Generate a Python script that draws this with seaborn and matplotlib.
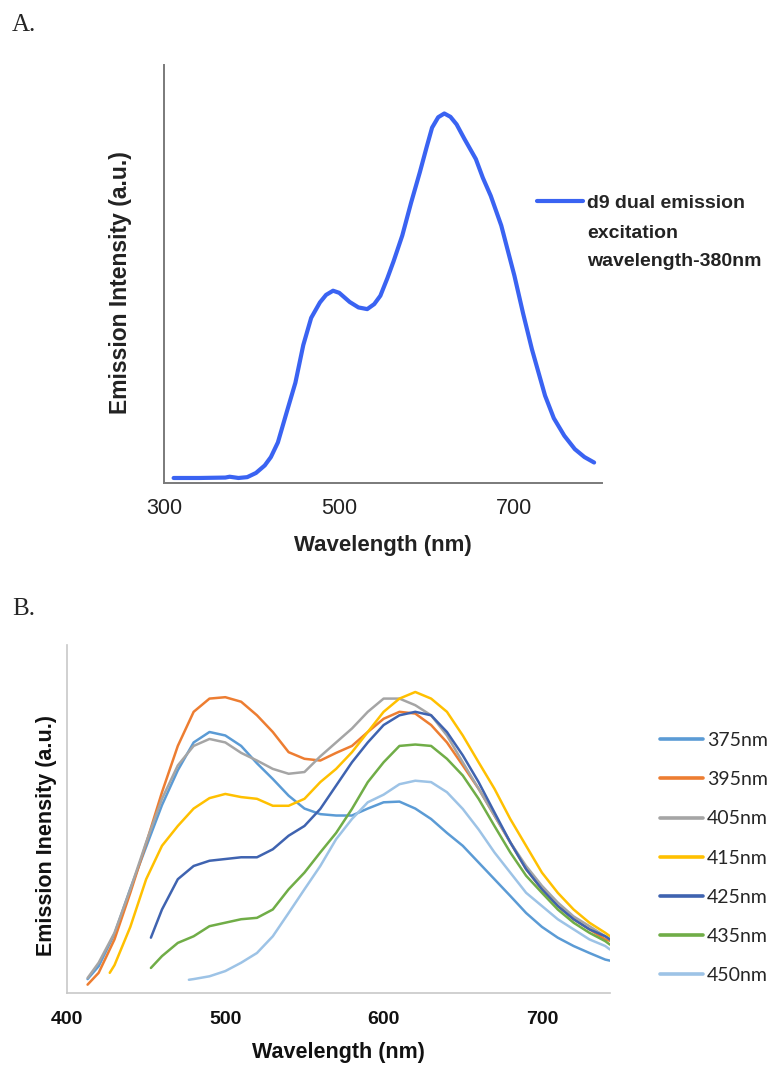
import numpy as np
import pandas as pd
import matplotlib
matplotlib.use("Agg")
import matplotlib.pyplot as plt
import seaborn as sns

# ---------------- Panel A data ----------------
wl_a = [311, 340, 370, 375, 385, 395, 405, 415, 422, 430, 440, 450, 459, 468, 478, 485,
        493, 500, 512, 522, 532, 540, 547, 555, 562, 572, 582, 592, 600, 606, 613, 620,
        627, 634, 643, 656, 664, 673, 685, 700, 710, 720, 735, 745, 757, 769, 780, 791]
int_a = [1.2, 1.2, 1.3, 1.5, 1.2, 1.4, 2.4, 4.2, 6.2, 9.7, 16.9, 24, 33, 39.5, 43.2, 45,
         46, 45.5, 43.3, 42, 41.6, 42.8, 44.8, 49, 53, 59.2, 67, 74.3, 80.5, 85, 87.5, 88.4,
         87.6, 85.8, 82.3, 77.5, 73, 68.7, 61.6, 49.6, 40.5, 32, 20.9, 15.5, 11.3, 8.1, 6.2, 4.9]
a_ticks = [300, 500, 700]
legend_a_lines = ["d9 dual emission", "excitation", "wavelength-380nm"]

# ---------------- Panel B data ----------------
grid = list(range(420, 741, 10))
wl_375 = [413] + grid + [743]
val_375 = [4, 7.7, 17, 30, 42, 54, 64, 72, 75, 74, 71, 66, 61.5, 56.7, 53, 51.4, 51, 51, 53,
           54.8, 55, 53, 50, 46, 42.3, 37.5, 32.7, 27.9, 23, 19, 15.9, 13.5, 11.5, 9.6, 9.3]
wl_395 = [413] + grid + [743]
val_395 = [2.4, 5.8, 15.4, 28.8, 43, 57.7, 71, 80.8, 84.6, 85, 83.7, 79.8, 75, 69.2, 67.3,
           66.8, 69, 71, 75, 78.8, 80.8, 80.3, 77, 72, 65.4, 58.7, 51, 43.3, 35.6, 29.8, 25,
           21.2, 18.3, 15.4, 15]
wl_405 = [413] + grid + [743]
val_405 = [4.3, 8.7, 17.3, 29.8, 43.3, 55.8, 65.4, 71, 73, 72, 69, 66.8, 64.4, 63, 63.5, 68,
           72, 76, 80.8, 84.6, 84.6, 82.7, 79.8, 74, 66.3, 58.7, 51, 43.3, 36.5, 30.8, 26, 22,
           19.2, 16.3, 15.4]
wl_415 = [427] + list(range(430, 741, 10)) + [743]
val_415 = [5.8, 8, 19, 32.7, 42.3, 48, 53, 56, 57.2, 56.3, 55.8, 53.8, 53.8, 55.8, 60.6, 64.4,
           69.2, 75, 80.8, 84.6, 86.5, 84.6, 80.8, 74, 66.3, 58.7, 50, 42.3, 34.6, 28.8, 24,
           20.2, 17.3, 16.3]
wl_425 = [453] + list(range(460, 741, 10)) + [743]
val_425 = [15.9, 24, 32.7, 36.5, 38, 38.5, 39, 39, 41.3, 45.2, 48, 52.9, 59.6, 66.3, 72, 77,
           79.8, 80.8, 79.8, 75, 68.3, 60.6, 51.9, 43.3, 35.6, 29.8, 25, 21.2, 18.3, 16.3, 15.4]
wl_435 = [453] + list(range(460, 741, 10)) + [743]
val_435 = [7.2, 10.6, 14.4, 16.3, 19.2, 20.2, 21.2, 21.6, 24, 29.8, 34.6, 40.4, 46, 52.9, 60.6,
           66.3, 71, 71.4, 71, 67.3, 62.5, 55.8, 48, 40.4, 33.7, 28.8, 24, 20.2, 17.3, 14.9, 13.9]
wl_450 = [477] + list(range(480, 741, 10)) + [743]
val_450 = [3.8, 4.0, 4.8, 6.3, 8.7, 11.5, 16.3, 23, 29.8, 36.5, 44.2, 50, 54.8, 57, 60, 61,
           60.6, 57.7, 52.9, 47, 40.4, 34.6, 28.8, 25, 21.2, 18.3, 15.4, 13.5, 12.5]
series_b = ["375nm", "395nm", "405nm", "415nm", "425nm", "435nm", "450nm"]
colors_b = ["#5B9BD5", "#ED7D31", "#A5A5A5", "#FFC000", "#3F63B0", "#70AD47", "#9DC3E6"]
b_ticks = [400, 500, 600, 700]

# ---------------- figure ----------------
sns.set_theme(style="white")
plt.rcParams['font.family'] = ['Liberation Sans', 'DejaVu Sans']

W, H = 777, 1067
fig = plt.figure(figsize=(W / 100, H / 100), dpi=100)


def px(x0, y0, x1, y1):
    return [x0 / W, 1 - y1 / H, (x1 - x0) / W, (y1 - y0) / H]


axA = fig.add_axes(px(164, 65, 602, 483))
axB = fig.add_axes(px(67, 645, 610, 993))

# ---- Panel A ----
dfA = pd.DataFrame({"Wavelength": wl_a, "Intensity": int_a})
sns.lineplot(data=dfA, x="Wavelength", y="Intensity", ax=axA, color="#3A63F2",
             lw=3.0, label=legend_a_lines[0])
axA.set_xlim(300, 800)
axA.set_ylim(0, 100)
axA.set_xticks(a_ticks)
axA.set_yticks([])
axA.tick_params(axis='x', length=0, pad=11, labelsize=15.5, colors='#222222')
for s in ['top', 'right']:
    axA.spines[s].set_visible(False)
for s in ['left', 'bottom']:
    axA.spines[s].set_color('#7a7a7a')
    axA.spines[s].set_linewidth(1.4)
axA.set_xlabel('Wavelength (nm)', fontsize=16, fontweight='bold', color='#222222')
axA.set_ylabel('Emission Intensity (a.u.)', fontsize=16.5, fontweight='bold', color='#222222')
axA.xaxis.set_label_coords(0.5, -0.125)
axA.yaxis.set_label_coords(-0.072, 0.48)
legA = axA.legend(loc='center left', bbox_to_anchor=(537 / W, 1 - 203 / H),
                  bbox_transform=fig.transFigure, handlelength=2.37, handletextpad=0.2,
                  frameon=False, borderpad=0, borderaxespad=0,
                  prop={'weight': 'bold', 'size': 14, 'family': 'Liberation Sans'})

# ---- Panel B ----
frames = []
for name, wl, val in zip(series_b,
                         [wl_375, wl_395, wl_405, wl_415, wl_425, wl_435, wl_450],
                         [val_375, val_395, val_405, val_415, val_425, val_435, val_450]):
    frames.append(pd.DataFrame({"Wavelength": wl, "Intensity": val, "Excitation": name}))
dfB = pd.concat(frames, ignore_index=True)
sns.lineplot(data=dfB, x="Wavelength", y="Intensity", hue="Excitation",
             palette=dict(zip(series_b, colors_b)), hue_order=series_b, ax=axB, lw=1.8)
axB.set_xlim(400, 743)
axB.set_ylim(0, 100)
axB.set_xticks(b_ticks)
axB.set_yticks([])
axB.tick_params(axis='x', length=0, pad=13, labelsize=14, colors='#111111')
for t in axB.get_xticklabels():
    t.set_fontweight('bold')
for s in ['top', 'right']:
    axB.spines[s].set_visible(False)
for s in ['left', 'bottom']:
    axB.spines[s].set_color('#c8c8c8')
    axB.spines[s].set_linewidth(1.2)
axB.set_xlabel('Wavelength (nm)', fontsize=15.5, fontweight='bold', color='#111111')
axB.set_ylabel('Emission Inensity (a.u.)', fontsize=15.5, fontweight='bold', color='#111111')
axB.xaxis.set_label_coords(0.5, -0.14)
axB.yaxis.set_label_coords(-0.018, 0.454)
oldleg = axB.get_legend()
handles = oldleg.legend_handles
labels = [t.get_text() for t in oldleg.get_texts()]
for h in handles:
    h.set_linewidth(2.6)
axB.legend(handles, labels, loc='center left', bbox_to_anchor=(660 / W, 1 - 858 / H),
           bbox_transform=fig.transFigure, handlelength=2.2, handletextpad=0.2,
           labelspacing=1.14, frameon=False, borderpad=0, borderaxespad=0,
           prop={'size': 14, 'family': 'Lato'})

# ---- panel letters ----
fig.text(12 / W, 1 - 25 / H, 'A.', family='Liberation Serif', fontsize=18, va='center', ha='left')
fig.text(12 / W, 1 - 609 / H, 'B.', family='Liberation Serif', fontsize=18, va='center', ha='left')

# ---- remaining legend lines for panel A ----
fig.canvas.draw()
r = fig.canvas.get_renderer()
bb = legA.get_texts()[0].get_window_extent(r)
x0 = bb.x0 / (W)
for line, ypx in zip(legend_a_lines[1:], [233, 262]):
    fig.text(x0, 1 - ypx / H, line, fontsize=14, fontweight='bold', va='center', ha='left',
             family='Liberation Sans', color='#222222')

fig.savefig('out.png', dpi=100)
